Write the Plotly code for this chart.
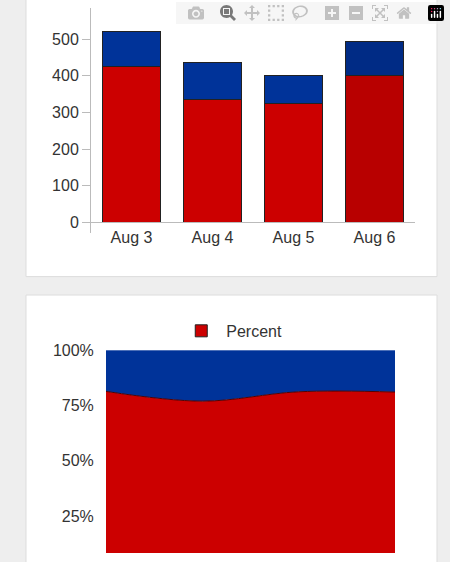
import plotly.graph_objects as go

days = ["Aug 3", "Aug 4", "Aug 5", "Aug 6"]
red_vals = [425, 335, 325, 400]
blue_vals = [97, 100, 75, 93]
y_ticks = [0, 100, 200, 300, 400, 500]
pct_ticks = [25, 50, 75, 100]
pct_labels = ["25%", "50%", "75%", "100%"]

W, H = 450, 562
def py(px):
    return 1 - px / H

red_c = ["#cc0000", "#cc0000", "#cc0000", "#b80000"]
blue_c = ["#003399", "#003399", "#003399", "#002b85"]

fig = go.Figure()
fig.add_bar(x=days, y=red_vals, marker=dict(color=red_c, line=dict(color="#222", width=1)),
            width=0.71, showlegend=False, xaxis="x", yaxis="y")
fig.add_bar(x=days, y=blue_vals, marker=dict(color=blue_c, line=dict(color="#222", width=1)),
            width=0.71, showlegend=False, xaxis="x", yaxis="y")

fig.add_scatter(x=days, y=red_vals, stackgroup="one", groupnorm="percent", name="Percent",
                mode="lines", line=dict(color="#550000", width=1, shape="spline"),
                fillcolor="#cc0000", xaxis="x2", yaxis="y2", showlegend=False)
fig.add_scatter(x=days, y=blue_vals, stackgroup="one", name="Other", showlegend=False,
                mode="lines", line=dict(color="#003399", width=0.5, shape="spline"),
                fillcolor="#003399", xaxis="x2", yaxis="y2")
# legend entry (box symbol)
fig.add_bar(x=[None], y=[None], name="Percent", marker=dict(color="#cc0000", line=dict(color="#222", width=1)),
            xaxis="x2", yaxis="y2", showlegend=True)

tickfont = dict(family="Liberation Sans, Arial", size=16, color="#333")
fig.update_layout(
    width=W, height=H, margin=dict(l=0, r=0, t=0, b=0),
    paper_bgcolor="#eeeeee", plot_bgcolor="rgba(0,0,0,0)", barmode="stack",
    xaxis=dict(domain=[91 / W, 415 / W], anchor="y", range=[-0.5, 3.5], tickfont=tickfont,
               showline=True, linecolor="#bbb", ticks="", showgrid=False),
    yaxis=dict(domain=[py(221), 1], anchor="x", range=[0, 585], tickvals=y_ticks,
               tickfont=tickfont, showline=True, linecolor="#bbb", ticks="outside",
               ticklen=8, tickcolor="#bbb", showgrid=False, zeroline=False),
    xaxis2=dict(domain=[106 / W, 395 / W], anchor="y2", range=[0, 3], visible=False),
    yaxis2=dict(domain=[0, py(353)], anchor="x2", range=[8.33, 100], tickvals=pct_ticks,
                ticktext=pct_labels, tickfont=tickfont, showgrid=False, zeroline=False,
                showline=False, ticks="outside", ticklen=8, tickcolor="rgba(0,0,0,0)"),
    legend=dict(x=0.515, y=py(333), xanchor="center", yanchor="middle", orientation="h",
                font=dict(family="Liberation Sans, Arial", size=16, color="#333"),
                bgcolor="rgba(0,0,0,0)", itemwidth=40),
    shapes=[
        dict(type="rect", xref="paper", yref="paper", x0=26 / W, x1=437 / W, y0=py(277), y1=1.05,
             fillcolor="white", line=dict(color="#dddddd", width=1), layer="below"),
        dict(type="rect", xref="paper", yref="paper", x0=26 / W, x1=437 / W, y0=-0.05, y1=py(296),
             fillcolor="white", line=dict(color="#dddddd", width=1), layer="below"),
        dict(type="line", xref="paper", yref="paper", x0=90.5 / W, x1=90.5 / W, y0=py(232), y1=py(221),
             line=dict(color="#bbb", width=1)),
    ],
)
fig.write_html("out.html", post_script="document.body.style.margin='0';document.body.style.overflow='hidden';")
